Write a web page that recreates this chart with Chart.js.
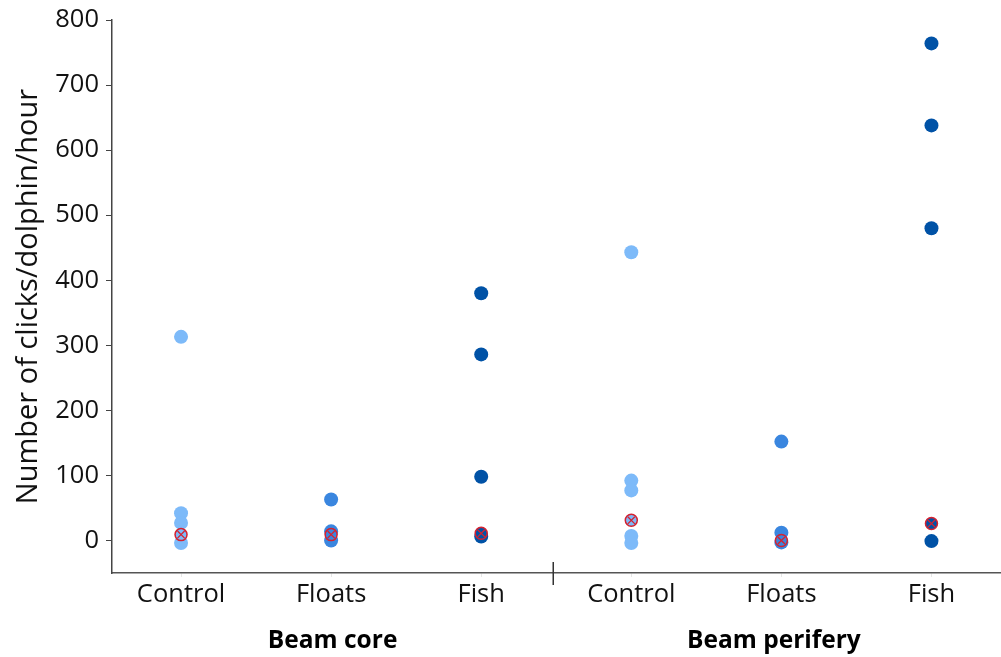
<!DOCTYPE html>
<html>
<head>
<meta charset="utf-8">
<script src="https://cdn.jsdelivr.net/npm/chart.js@4"></script>
<style>
  html, body { margin: 0; padding: 0; background: #fff; overflow: hidden; }
  #wrap { width: 1001px; height: 657px; overflow: hidden; }
</style>
</head>
<body>
<!-- canvas is a bit wider than the window: Chart.js keeps ~7px spare on the right -->
<div id="wrap"><canvas id="chart" width="1008" height="657"></canvas></div>
<script>
// categories along the x axis and the two beam groups
const categories = ["Control", "Floats", "Fish", "Control", "Floats", "Fish"];
const groups = ["Beam core", "Beam perifery"];

// clicks/dolphin/hour per category
const coreControl = [313, 42, 27, -4];
const coreFloats = [63, 14, 0];
const coreFish = [380, 286, 98, 6];
const periControl = [443, 92, 77, 7, -4];
const periFloats = [152, 12, -3];
const periFish = [764, 638, 480, -1];

// red-circled markers (one per category)
const medians = [9, 9, 11, 31, 0, 26];

const yTicks = [0, 100, 200, 300, 400, 500, 600, 700, 800];

const lightBlue = "#7DBAF9";
const midBlue = "#3A86DF";
const darkBlue = "#0052A6";
const catColors = [lightBlue, midBlue, darkBlue, lightBlue, midBlue, darkBlue];

function pts(i, values) {
  return values.map(v => ({ x: i, y: v }));
}

const fontFamily = "'Open Sans', 'Noto Sans', sans-serif";

// group labels under the axis plus the separator tick
const groupLabels = {
  id: "groupLabels",
  afterDraw(chart) {
    const ctx = chart.ctx;
    const xs = chart.scales.x;
    const bottom = chart.chartArea.bottom;
    const sep = xs.getPixelForValue(2.48);
    ctx.save();
    ctx.strokeStyle = "#333";
    ctx.lineWidth = 1.5;
    ctx.beginPath();
    ctx.moveTo(sep, bottom - 11);
    ctx.lineTo(sep, bottom + 12);
    ctx.stroke();
    ctx.fillStyle = "#000";
    ctx.font = "bold 24.5px " + fontFamily;
    ctx.textAlign = "center";
    ctx.textBaseline = "middle";
    ctx.fillText(groups[0], (xs.left + sep) / 2, 641);
    ctx.fillText(groups[1], (sep + xs.right) / 2 - 3, 641);
    ctx.restore();
  }
};

new Chart(document.getElementById("chart"), {
  type: "scatter",
  data: {
    datasets: [
      {
        data: medians.map((v, i) => ({ x: i, y: v })),
        pointStyle: "crossRot",
        pointRadius: 5,
        borderColor: "#D42230",
        pointBorderWidth: 1.3,
        order: 0
      },
      {
        data: medians.map((v, i) => ({ x: i, y: v })),
        pointRadius: 6,
        backgroundColor: catColors,
        borderColor: "#D42230",
        pointBorderWidth: 1.5,
        order: 1
      },
      {
        data: [...pts(0, coreControl), ...pts(3, periControl)],
        pointRadius: 7,
        backgroundColor: lightBlue,
        borderWidth: 0,
        order: 2
      },
      {
        data: [...pts(1, coreFloats), ...pts(4, periFloats)],
        pointRadius: 7,
        backgroundColor: midBlue,
        borderWidth: 0,
        order: 2
      },
      {
        data: [...pts(2, coreFish), ...pts(5, periFish)],
        pointRadius: 7,
        backgroundColor: darkBlue,
        borderWidth: 0,
        order: 2
      }
    ]
  },
  options: {
    responsive: false,
    animation: false,
    layout: { padding: { top: 20, right: 1, left: 0, bottom: 0 } },
    plugins: { legend: { display: false }, tooltip: { enabled: false } },
    scales: {
      x: {
        type: "linear",
        min: -0.46,
        max: 5.46,
        afterBuildTicks: (axis) => { axis.ticks = categories.map((_, i) => ({ value: i })); },
        afterFit: (axis) => { axis.height = 84; },
        grid: { drawOnChartArea: false, tickLength: 4, color: "#e6e6e6" },
        border: { color: "#555", width: 1.5 },
        ticks: {
          padding: 2,
          color: "#111",
          font: { family: fontFamily, size: 25.5 },
          callback: (v) => categories[v]
        }
      },
      y: {
        min: -50,
        max: 800,
        afterBuildTicks: (axis) => { axis.ticks = yTicks.map(v => ({ value: v })); },
        afterFit: (axis) => { axis.width = 112; axis.paddingTop = 0; axis.paddingBottom = 0; },
        grid: { drawOnChartArea: false, tickLength: 6, color: "#444" },
        border: { color: "#444", width: 1.5 },
        ticks: {
          padding: 7,
          color: "#111",
          font: { family: fontFamily, size: 25.5 }
        },
        title: {
          display: true,
          text: "Number of clicks/dolphin/hour",
          color: "#111",
          font: { family: fontFamily, size: 29 },
          padding: { top: 11, bottom: 0 }
        }
      }
    }
  },
  plugins: [groupLabels]
});
</script>
</body>
</html>
